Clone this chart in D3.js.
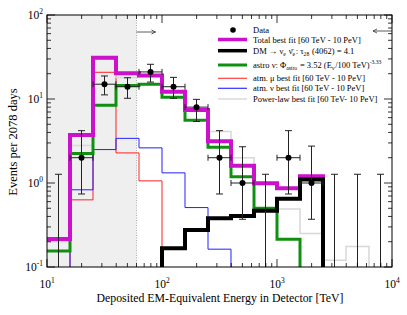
<!DOCTYPE html>
<html><head><meta charset="utf-8">
<script src="https://cdn.jsdelivr.net/npm/d3@7"></script>
<style>body{margin:0;background:#fff;} svg{display:block;font-family:"Liberation Serif","DejaVu Serif",serif;}</style>
</head><body>
<svg id="c" width="407" height="315"></svg>
<script>
// ---- data ----
const edges = [10, 15.85, 25.12, 39.81, 63.1, 100, 158.5, 251.2, 398.1, 631, 1000, 1585, 2512, 3981, 6310, 10000];
const totalFit = [0.215, 3.73, 31, 20.2, 19.0, 12.2, 7.4, 3.15, 1.6, 0.99, 0.865, 1.2, 0, 0, 0];
const dmFit    = [0, 0, 0, 0, 0, 0.167, 0.275, 0.38, 0.405, 0.468, 0.65, 1.1, 0, 0, 0];
const astroFit = [0.155, 2.25, 8.4, 14.5, 15.0, 10.5, 5.6, 2.66, 1.19, 0.5, 0.214, 0, 0, 0, 0];
const atmMu    = [0, 0.63, 20.8, 2.28, 1.06, 0, 0, 0, 0, 0, 0, 0, 0, 0, 0];
const atmNu    = [0, 0.83, 2.5, 3.4, 2.62, 1.32, 0.51, 0.163, 0, 0, 0, 0, 0, 0, 0];
const powerLaw = [0.2, 2.8, 30, 18, 18.5, 12.5, 7.6, 4.1, 2.0, 0.48, 0.49, 0.25, 0.12, 0.175, 0];
const dataCounts = [0, 2, 15, 14, 21, 14, 8, 2, 1, 0, 2, 1, 0, 0, 0];
const dataLow    = [0, 0.74, 11.2, 10.2, 15.9, 10.2, 5.4, 0.74, 0.37, 0, 0.74, 0.37, 0, 0, 0];
const dataHigh   = [1.27, 4.2, 18.8, 17.9, 25.9, 18.1, 9.9, 4.2, 2.7, 1.27, 4.2, 2.75, 1.27, 1.27, 1.27];
const xTicks = [10, 100, 1000, 10000];
const xTickExp = ["1", "2", "3", "4"];
const yTicks = [0.1, 1, 10, 100];
const yTickExp = ["-1", "0", "1", "2"];
const thresholdE = 60;

// ---- layout ----
const L = 47, R = 392, T = 15, B = 267;
const svg = d3.select("#c");
const x = d3.scaleLog().domain([10, 10000]).range([L, R]);
const y = d3.scaleLog().domain([0.1, 100]).range([B, T]);

svg.append("defs").append("clipPath").attr("id", "clip")
  .append("rect").attr("x", L).attr("y", T).attr("width", R - L).attr("height", B - T);

svg.append("rect").attr("x", x(10)).attr("y", T).attr("width", x(thresholdE) - x(10)).attr("height", B - T)
  .attr("fill", "#efefef");
svg.append("line").attr("x1", x(thresholdE)).attr("x2", x(thresholdE)).attr("y1", T).attr("y2", B)
  .attr("stroke", "#999").attr("stroke-width", 0.8).attr("stroke-dasharray", "1,1.5");

const g = svg.append("g").attr("clip-path", "url(#clip)");

function stepPts(vals) {
  const pts = [];
  vals.forEach((v, i) => {
    const vv = v > 0.1 ? v : 0.05;
    pts.push([edges[i], vv], [edges[i + 1], vv]);
  });
  return pts;
}
const line = d3.line().x(d => x(d[0])).y(d => y(d[1]));
function drawStep(vals, color, w) {
  g.append("path").attr("d", line(stepPts(vals))).attr("fill", "none")
    .attr("stroke", color).attr("stroke-width", w).attr("stroke-linejoin", "miter");
}
drawStep(atmMu, "#ff2020", 1);
drawStep(atmNu, "#2020ff", 1);
drawStep(powerLaw, "#d8d8d8", 1.5);
drawStep(astroFit, "#109010", 3);
drawStep(totalFit, "#cc11cc", 4);
drawStep(dmFit, "#000", 4);

const dg = svg.append("g").attr("stroke", "#222").attr("stroke-width", 1);
dataCounts.forEach((c, i) => {
  const cx = x(Math.sqrt(edges[i] * edges[i + 1]));
  const yTop = y(dataHigh[i]);
  const yBot = c > 0 ? y(dataLow[i]) : B;
  dg.append("line").attr("x1", cx).attr("x2", cx).attr("y1", yTop).attr("y2", yBot);
  dg.append("line").attr("x1", cx - 3.5).attr("x2", cx + 3.5).attr("y1", yTop).attr("y2", yTop);
  if (c > 0) {
    dg.append("line").attr("x1", cx - 3.5).attr("x2", cx + 3.5).attr("y1", yBot).attr("y2", yBot);
    const cy = y(c);
    const x0 = x(edges[i]), x1 = x(edges[i + 1]);
    dg.append("line").attr("x1", x0).attr("x2", x1).attr("y1", cy).attr("y2", cy);
    dg.append("line").attr("x1", x0).attr("x2", x0).attr("y1", cy - 3).attr("y2", cy + 3);
    dg.append("line").attr("x1", x1).attr("x2", x1).attr("y1", cy - 3).attr("y2", cy + 3);
    svg.append("circle").attr("cx", cx).attr("cy", cy).attr("r", 3).attr("fill", "#000");
  }
});

function arrow(xa, xb, yy) {
  svg.append("line").attr("x1", xa).attr("x2", xb).attr("y1", yy).attr("y2", yy).attr("stroke", "#333").attr("stroke-width", 0.8);
  const d = xb > xa ? -1 : 1;
  svg.append("path").attr("d", `M${xb + d * 4},${yy - 2}L${xb},${yy}L${xb + d * 4},${yy + 2}`)
    .attr("fill", "none").attr("stroke", "#333").attr("stroke-width", 0.8);
}
arrow(x(thresholdE), x(thresholdE) + 19, 32);
arrow(R, R - 19, 31);

svg.append("rect").attr("x", L).attr("y", T).attr("width", R - L).attr("height", B - T)
  .attr("fill", "none").attr("stroke", "#000").attr("stroke-width", 1);
const tg = svg.append("g").attr("stroke", "#000").attr("stroke-width", 0.8);
function minors(dom) {
  const out = [];
  for (let d = dom[0]; d < dom[1]; d *= 10) for (let k = 1; k < 10; k++) out.push({ v: d * k, major: k === 1 });
  out.push({ v: dom[1], major: true });
  return out;
}
minors([10, 10000]).forEach(t => {
  const px = x(t.v), len = t.major ? 8 : 4;
  tg.append("line").attr("x1", px).attr("x2", px).attr("y1", B).attr("y2", B - len);
  tg.append("line").attr("x1", px).attr("x2", px).attr("y1", T).attr("y2", T + len);
});
minors([0.1, 100]).forEach(t => {
  const py = y(t.v), len = t.major ? 8 : 4;
  tg.append("line").attr("x1", L).attr("x2", L + len).attr("y1", py).attr("y2", py);
  tg.append("line").attr("x1", R).attr("x2", R - len).attr("y1", py).attr("y2", py);
});

xTicks.forEach((t, i) => {
  const tx = svg.append("text").attr("x", x(t)).attr("y", 288).attr("text-anchor", "middle")
    .attr("font-size", 11.5);
  tx.append("tspan").text("10");
  tx.append("tspan").attr("dy", -5).attr("font-size", 7.5).text(xTickExp[i]);
});
yTicks.forEach((t, i) => {
  const tx = svg.append("text").attr("x", 43).attr("y", y(t) + 4).attr("text-anchor", "end")
    .attr("font-size", 11.5);
  tx.append("tspan").text("10");
  tx.append("tspan").attr("dy", -5).attr("font-size", 7.5).text(yTickExp[i]);
});

svg.append("text").attr("x", 220).attr("y", 302).attr("text-anchor", "middle").attr("font-size", 11.8)
  .text("Deposited EM-Equivalent Energy in Detector [TeV]");
svg.append("text").attr("transform", "translate(17,142) rotate(-90)").attr("text-anchor", "middle")
  .attr("font-size", 12.5).text("Events per 2078 days");

// legend
const lg = svg.append("g").attr("font-size", 8.5);
const lx0 = 218, lx1 = 247, tx = 253;
lg.append("circle").attr("cx", 233).attr("cy", 30).attr("r", 2.8).attr("fill", "#000");
lg.append("text").attr("x", tx).attr("y", 33).text("Data");
const entries = [
  { y: 39.5, color: "#cc11cc", w: 3.5 },
  { y: 50.7, color: "#000", w: 3.5 },
  { y: 65, color: "#109010", w: 3 },
  { y: 78.3, color: "#ff4040", w: 1.2 },
  { y: 88.3, color: "#3030ff", w: 1.2 },
  { y: 99, color: "#dadada", w: 1.5 }
];
entries.forEach(e => lg.append("line").attr("x1", lx0).attr("x2", lx1).attr("y1", e.y).attr("y2", e.y)
  .attr("stroke", e.color).attr("stroke-width", e.w));
function ltext(yy, parts) {
  const t = lg.append("text").attr("x", tx).attr("y", yy + 3);
  parts.forEach(p => {
    if (typeof p === "string") t.append("tspan").text(p);
    else {
      t.append("tspan").attr("font-size", 5.6).attr("dy", p.sub ? 2.4 : -3.6).text(p.t);
      t.append("tspan").attr("dy", p.sub ? -2.4 : 3.6).text("\u200A");
    }
  });
}
ltext(39.5, ["Total best fit [60 TeV - 10 PeV]"]);
ltext(50.7, ["DM \u2192 \u03BD", { t: "e", sub: true }, " \u03BD\u0304", { t: "e", sub: true }, ":  \u03C4", { t: "28", sub: true }, " (4062) = 4.1"]);
ltext(65, ["astro \u03BD: \u03A6", { t: "astro", sub: true }, " = 3.52 (E", { t: "\u03BD", sub: true }, "/100 TeV)", { t: "-3.33", sub: false }]);
ltext(78.3, ["atm. \u03BC best fit [60 TeV - 10 PeV]"]);
ltext(88.3, ["atm. \u03BD best fit [60 TeV - 10 PeV]"]);
ltext(99, ["Power-law best fit [60 TeV- 10 PeV]"]);
</script>
</body></html>
